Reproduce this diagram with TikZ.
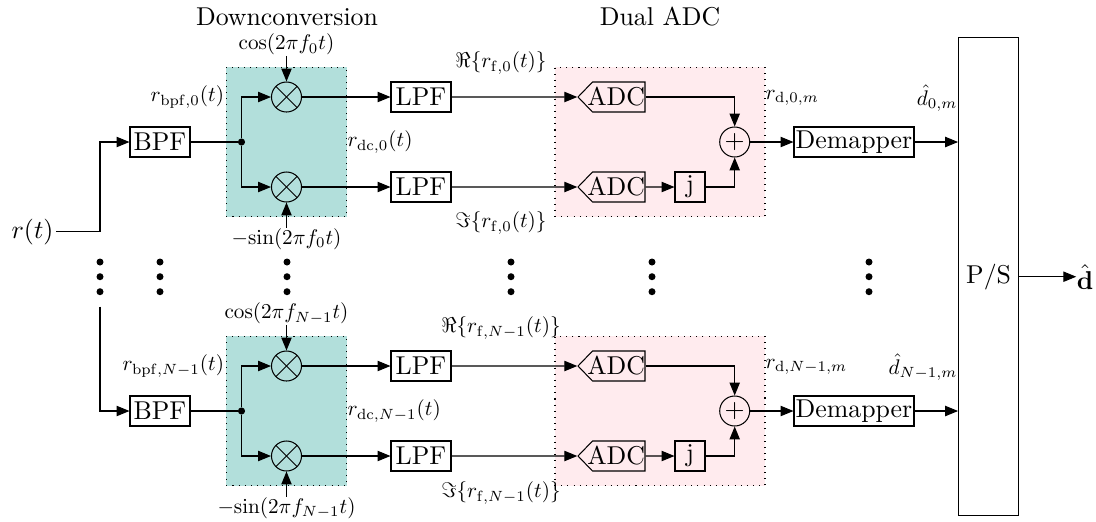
\documentclass[tikz,border=0pt]{standalone}
\usepackage{amsmath}
\usepackage{graphicx}
\usetikzlibrary{arrows.meta,shapes.symbols}
\definecolor{downcol}{HTML}{B2DFDB}
\definecolor{dualcol}{HTML}{FFEBEE}
\def\pxu{0.3876pt}
\newcommand{\dotcol}[2]{
  \node[bigdot] (#1a) at (#2,262) {};
  \node[bigdot] (#1b) at (#2,276.7) {};
  \node[bigdot] (#1c) at (#2,291.7) {};
}
\newcommand{\adclabel}{\makebox[20.35pt][r]{ADC}}
\newcommand{\siglabel}[1]{\scalebox{0.82}{$#1$}}
\tikzset{
  blockbox/.style={draw,inner sep=0pt,minimum width=60*\pxu,minimum height=30*\pxu},
  adcbox/.style={draw,signal,signal to=west,signal from=nowhere,signal pointer angle=92,inner sep=0pt,minimum height=30*\pxu},
  sumcirc/.style={draw,circle,inner sep=0pt,minimum size=30*\pxu},
  mixcirc/.style={sumcirc,path picture={
    \draw[-] (path picture bounding box.north west) -- (path picture bounding box.south east);
    \draw[-] (path picture bounding box.north east) -- (path picture bounding box.south west);}},
  joint/.style={draw,circle,fill,inner sep=0pt,minimum size=6*\pxu},
  bigdot/.style={circle,fill,inner sep=0pt,minimum size=7*\pxu},
  sig/.style={inner sep=0pt},
  downarea/.style={draw,dotted,fill=downcol,minimum width=120.4*\pxu,minimum height=149.4*\pxu},
  dualarea/.style={draw,dotted,fill=dualcol,minimum width=210*\pxu,minimum height=149.4*\pxu}
}
\begin{document}
\begin{tikzpicture}[->,>={Triangle[length=5pt,width=4pt]},x=\pxu,y=-\pxu,line width=0.4pt]
  \useasboundingbox (0,0) rectangle (1096,521);

  \node[downarea] (downA) at (286.5,142) {};
  \node[dualarea] (dualA) [right of=downA,node distance=373.5*\pxu] {};
  \node[downarea] (downB) [below of=downA,node distance=269*\pxu] {};
  \node[dualarea] (dualB) [right of=downB,node distance=373.5*\pxu] {};

  \node (titleA) at (287,17) {Downconversion};
  \node (titleB) at (660,17) {Dual ADC};

  % upper branch
  \node[blockbox] (bpfA) [left of=downA,node distance=126.5*\pxu] {BPF};
  \node[joint]    (jointA) [right of=bpfA,node distance=81.5*\pxu] {};
  \node[mixcirc]  (mixA) [above of=downA,node distance=45*\pxu] {};
  \node[mixcirc]  (mixC) [below of=downA,node distance=45*\pxu] {};
  \node[blockbox] (lpfA) [right of=mixA,node distance=134.5*\pxu] {LPF};
  \node[blockbox] (lpfC) [right of=mixC,node distance=134.5*\pxu] {LPF};
  \node[adcbox]   (adcA) [right of=lpfA,node distance=197.75*\pxu] {\adclabel};
  \node[adcbox]   (adcC) [right of=lpfC,node distance=197.75*\pxu] {\adclabel};
  \node[blockbox,minimum width=30*\pxu] (jA) [right of=adcC,node distance=71.25*\pxu] {j};
  \node[sumcirc]  (plusA) [right of=dualA,node distance=74.7*\pxu] {$+$};
  \node[blockbox,minimum width=120*\pxu] (demA) [right of=plusA,node distance=119.3*\pxu] {Demapper};

  \node[sig] (cosA) [above of=mixA,node distance=52.3*\pxu] {\siglabel{\cos(2\pi f_0 t)}};
  \node[sig] (sinA) [below of=mixC,node distance=52*\pxu] {\siglabel{-\!\sin(2\pi f_0 t)}};
  \node[sig] (rbpfA) [left of=mixA,node distance=62*\pxu,anchor=east] {\siglabel{r_{\mathrm{bpf},0}(t)}};
  \node[sig] (rdcA) [right of=downA,node distance=60.5*\pxu,anchor=west] {\siglabel{r_{\mathrm{dc},0}(t)}};
  \node[sig] (reA) [above of=lpfA,node distance=34*\pxu,xshift=80*\pxu] {\siglabel{\Re\{r_{\mathrm{f},0}(t)\}}};
  \node[sig] (imA) [below of=lpfC,node distance=36*\pxu,xshift=80*\pxu] {\siglabel{\Im\{r_{\mathrm{f},0}(t)\}}};
  \node[sig] (rdA) [right of=dualA,node distance=105*\pxu,yshift=44*\pxu,anchor=west] {\siglabel{r_{\mathrm{d},0,m}}};
  \node[sig] (dhatA) [right of=demA,node distance=104*\pxu,yshift=44*\pxu,anchor=east] {\siglabel{\hat{d}_{0,m}}};

  % lower branch
  \node[blockbox] (bpfB) [left of=downB,node distance=126.5*\pxu] {BPF};
  \node[joint]    (jointB) [right of=bpfB,node distance=81.5*\pxu] {};
  \node[mixcirc]  (mixB) [above of=downB,node distance=45*\pxu] {};
  \node[mixcirc]  (mixD) [below of=downB,node distance=45*\pxu] {};
  \node[blockbox] (lpfB) [right of=mixB,node distance=134.5*\pxu] {LPF};
  \node[blockbox] (lpfD) [right of=mixD,node distance=134.5*\pxu] {LPF};
  \node[adcbox]   (adcB) [right of=lpfB,node distance=197.75*\pxu] {\adclabel};
  \node[adcbox]   (adcD) [right of=lpfD,node distance=197.75*\pxu] {\adclabel};
  \node[blockbox,minimum width=30*\pxu] (jB) [right of=adcD,node distance=71.25*\pxu] {j};
  \node[sumcirc]  (plusB) [right of=dualB,node distance=74.7*\pxu] {$+$};
  \node[blockbox,minimum width=120*\pxu] (demB) [right of=plusB,node distance=119.3*\pxu] {Demapper};

  \node[sig] (cosB) [above of=mixB,node distance=52.3*\pxu] {\siglabel{\cos(2\pi f_{N-1} t)}};
  \node[sig] (sinB) [below of=mixD,node distance=52*\pxu] {\siglabel{-\!\sin(2\pi f_{N-1} t)}};
  \node[sig] (rbpfB) [left of=mixB,node distance=62*\pxu,anchor=east] {\siglabel{r_{\mathrm{bpf},N-1}(t)}};
  \node[sig] (rdcB) [right of=downB,node distance=60.5*\pxu,anchor=west] {\siglabel{r_{\mathrm{dc},N-1}(t)}};
  \node[sig] (reB) [above of=lpfB,node distance=38*\pxu,xshift=80*\pxu] {\siglabel{\Re\{r_{\mathrm{f},N-1}(t)\}}};
  \node[sig] (imB) [below of=lpfD,node distance=37*\pxu,xshift=80*\pxu] {\siglabel{\Im\{r_{\mathrm{f},N-1}(t)\}}};
  \node[sig] (rdB) [right of=dualB,node distance=105*\pxu,yshift=44*\pxu,anchor=west] {\siglabel{r_{\mathrm{d},N-1,m}}};
  \node[sig] (dhatB) [right of=demB,node distance=104*\pxu,yshift=44*\pxu,anchor=east] {\siglabel{\hat{d}_{N-1,m}}};

  % input and output
  \node[inner sep=1pt] (rt) at (32.5,231.7) {$r(t)$};
  \node[coordinate] (riseA) [left of=bpfA,node distance=60*\pxu] {};
  \coordinate (startB) at (100,306.7);
  \node[blockbox,minimum width=60*\pxu,minimum height=478*\pxu] (ps) at (988.6,276.7) {P/S};
  \node[inner sep=0pt] (dout) at (1085,276.7) {$\hat{\mathbf{d}}$};

  \dotcol{colA}{100}
  \dotcol{colB}{160}
  \dotcol{colC}{287}
  \dotcol{colD}{511}
  \dotcol{colE}{652}
  \dotcol{colF}{869}

  \draw (rt) -| (riseA) -- (bpfA);
  \draw (startB) |- (bpfB);
  \draw (ps) -- (dout);

  \path[-] (bpfA) edge (jointA)
           (bpfB) edge (jointB);
  \draw (jointA) |- (mixA);
  \draw (jointA) |- (mixC);
  \draw (jointB) |- (mixB);
  \draw (jointB) |- (mixD);

  \path (cosA) edge (mixA)
        (sinA) edge (mixC)
        (mixA) edge (lpfA)
        (mixC) edge (lpfC)
        (lpfA) edge (adcA)
        (lpfC) edge (adcC)
        (adcC) edge (jA)
        (plusA) edge (demA);
  \path (cosB) edge (mixB)
        (sinB) edge (mixD)
        (mixB) edge (lpfB)
        (mixD) edge (lpfD)
        (lpfB) edge (adcB)
        (lpfD) edge (adcD)
        (adcD) edge (jB)
        (plusB) edge (demB);

  \draw (adcA) -| (plusA);
  \draw (jA) -| (plusA);
  \draw (adcB) -| (plusB);
  \draw (jB) -| (plusB);

  \draw (demA) -- (demA -| ps.west);
  \draw (demB) -- (demB -| ps.west);
\end{tikzpicture}
\end{document}
